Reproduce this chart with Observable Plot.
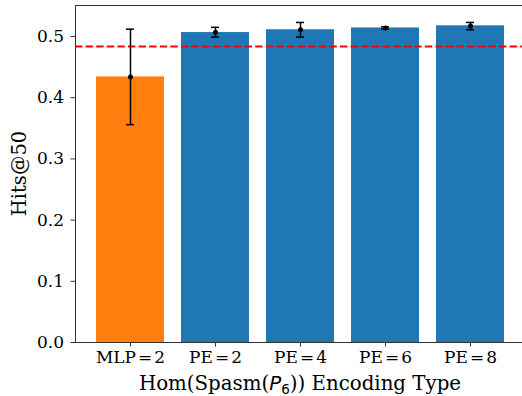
<!DOCTYPE html>
<html>
<head>
<meta charset="utf-8">
<script src="https://cdn.jsdelivr.net/npm/d3@7"></script>
<script src="https://cdn.jsdelivr.net/npm/@observablehq/plot@0.6"></script>
<style>
  html, body { margin: 0; padding: 0; background: #fff; }
  #chart svg { display: block; }
</style>
</head>
<body>
<div id="chart"></div>
<script>
const categories = ["MLP=2", "PE=2", "PE=4", "PE=6", "PE=8"];
const means = [0.434, 0.507, 0.511, 0.514, 0.517];
const barTops = [0.434, 0.5065, 0.511, 0.514, 0.5175];
const errors = [0.078, 0.008, 0.012, 0.002, 0.006];
const barColors = ["#ff7f0e", "#1f77b4", "#1f77b4", "#1f77b4", "#1f77b4"];
const baseline = 0.4837;
const yTicks = [0, 0.1, 0.2, 0.3, 0.4, 0.5];
const yMax = 0.5507;

const data = categories.map((c, i) => ({
  cat: c, top: barTops[i], mean: means[i],
  lo: means[i] - errors[i], hi: means[i] + errors[i], color: barColors[i]
}));

const W = 522, H = 396;
const chart = Plot.plot({
  width: W,
  height: H,
  marginLeft: 75,
  marginRight: 0,
  marginTop: 5,
  marginBottom: 54,
  style: { fontFamily: "DejaVu Serif", fontSize: "17px", background: "#fff", color: "#000" },
  x: { domain: categories, range: [75, 525], paddingInner: 0.2, paddingOuter: 0.24, label: null },
  y: { domain: [0, yMax], label: null },
  marks: [
    Plot.barY(data, { x: "cat", y: "top", fill: "color" }),
    Plot.ruleY([baseline], { stroke: "#ff0000", strokeWidth: 2, strokeDasharray: "7.4,3.2" }),
    Plot.ruleX(data, { x: "cat", y1: "lo", y2: "hi", stroke: "#000", strokeWidth: 1.5 }),
    Plot.tickY(data, { x: "cat", y: "lo", stroke: "#000", strokeWidth: 1.5, insetLeft: 30, insetRight: 30 }),
    Plot.tickY(data, { x: "cat", y: "hi", stroke: "#000", strokeWidth: 1.5, insetLeft: 30, insetRight: 30 }),
    Plot.dot(data, { x: "cat", y: "mean", r: 2.5, fill: "#000", stroke: null }),
    Plot.ruleY([0], { stroke: "#333", strokeWidth: 1 }),
    Plot.ruleY([yMax], { stroke: "#333", strokeWidth: 1 }),
    Plot.frame({ anchor: "left", stroke: "#333", strokeWidth: 1 }),
    Plot.axisY({ ticks: yTicks, tickFormat: d3.format(".1f"), tickSize: 4.5, tickPadding: 7, label: null, stroke: "#333", fontSize: 17 }),
    Plot.axisX({ tickSize: 4.5, tickPadding: 4, label: null, stroke: "#333", fontSize: 17 })
  ]
});
document.getElementById("chart").appendChild(chart);

const svg = d3.select(chart);
// widen the "=" in x tick labels like the reference's rendering
svg.selectAll("g[aria-label='x-axis tick label'] text").each(function () {
  const t = d3.select(this);
  const s = t.text();
  const parts = s.split("=");
  if (parts.length !== 2) return;
  t.text(null);
  t.append("tspan").text(parts[0]);
  t.append("tspan").attr("dx", 2).text("=");
  t.append("tspan").attr("dx", 2).text(parts[1]);
});
// y axis label
svg.append("text")
  .attr("transform", `translate(20.5, ${(5 + 342) / 2}) rotate(-90)`)
  .attr("text-anchor", "middle")
  .attr("dominant-baseline", "middle")
  .attr("font-family", "DejaVu Serif")
  .attr("font-size", 19.5)
  .attr("fill", "#000")
  .text("Hits@50");
// x axis label
const xl = svg.append("text")
  .attr("x", 300)
  .attr("y", 390)
  .attr("text-anchor", "middle")
  .attr("font-family", "DejaVu Serif")
  .attr("font-size", 19.8)
  .attr("fill", "#000");
xl.append("tspan").text("Hom(Spasm(");
xl.append("tspan").attr("font-family", "DejaVu Sans").attr("font-style", "italic").text("P");
xl.append("tspan").attr("font-family", "DejaVu Sans").attr("font-size", 13.5).attr("dy", 4).text("6");
xl.append("tspan").attr("dy", -4).text(")) Encoding Type");
</script>
</body>
</html>
